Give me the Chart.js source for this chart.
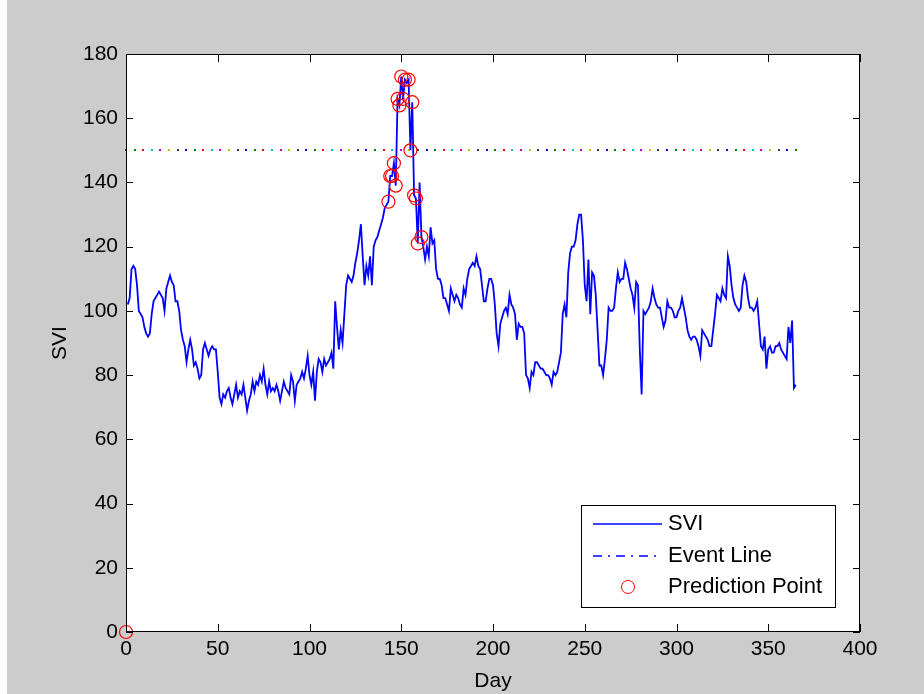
<!DOCTYPE html>
<html>
<head>
<meta charset="utf-8">
<title>SVI</title>
<script src="https://cdn.jsdelivr.net/npm/chart.js@4.4.0/dist/chart.umd.min.js"></script>
<style>
  html, body { margin: 0; padding: 0; background: #ffffff; }
  #wrap { position: absolute; left: 0; top: 0; width: 924px; height: 694px; background: #cccccc; }
  #edge { position: absolute; left: 0; top: 0; width: 7px; height: 694px; background: #ffffff; }
  canvas { display: block; }
</style>
</head>
<body>
<div id="wrap"><canvas id="chart" width="924" height="694"></canvas><div id="edge"></div></div>
<script>
"use strict";

// SVI, one value per day (day 1 .. 365).
const svi = [
  102, 104, 113, 114, 113, 108, 100, 99, 98, 95,
  93, 92, 93, 99, 103, 104, 105, 106, 105, 104,
  100, 107, 109, 111, 109, 108, 103, 103, 100, 94,
  91, 89, 84, 88, 91, 88, 83, 84, 82, 79,
  80, 88, 90, 88, 86, 88, 89, 88, 88, 81,
  73, 71, 74, 73, 75, 76, 73, 71, 74, 77,
  73, 75, 74, 77, 73, 69, 72, 74, 78, 75,
  78, 77, 80, 78, 82, 77, 74, 78, 75, 76,
  75, 77, 75, 72, 75, 78, 76, 75, 74, 80,
  78, 72, 77, 78, 79, 81, 79, 82, 86, 80,
  77, 81, 72, 81, 85, 84, 81, 85, 83, 84,
  85, 87, 82, 103, 95, 88, 94, 90, 99, 108,
  111, 110, 109, 111, 115, 118, 122, 127, 117, 108,
  114, 111, 117, 108, 120, 122, 123, 125, 127, 129,
  132, 133, 134, 142, 142, 146, 139, 166, 164, 173,
  166, 172, 171, 172, 150, 165, 136, 135, 121, 140,
  123, 120, 116, 120, 117, 126, 121, 122, 113, 110,
  110, 108, 104, 104, 102, 100, 107, 105, 103, 105,
  104, 102, 101, 107, 105, 110, 113, 114, 115, 114,
  117, 114, 113, 108, 103, 103, 107, 110, 110, 108,
  102, 93, 89, 96, 98, 100, 101, 99, 105, 102,
  101, 99, 91, 96, 95, 95, 93, 80, 79, 76,
  81, 80, 84, 84, 83, 82, 82, 81, 80, 80,
  79, 77, 81, 80, 81, 84, 87, 99, 102, 98,
  112, 118, 120, 120, 122, 127, 130, 130, 122, 108,
  103, 116, 99, 112, 111, 105, 94, 83, 83, 80,
  85, 91, 101, 100, 100, 101, 107, 112, 109, 110,
  110, 115, 113, 110, 107, 105, 101, 109, 108, 88,
  74, 100, 99, 100, 101, 103, 107, 104, 102, 101,
  101, 98, 95, 97, 103, 101, 101, 100, 98, 98,
  100, 101, 104, 101, 98, 94, 92, 91, 92, 92,
  91, 89, 86, 94, 93, 92, 91, 89, 89, 94,
  99, 105, 104, 103, 107, 105, 104, 117, 114, 108,
  104, 102, 101, 100, 101, 108, 111, 109, 104, 101,
  101, 100, 101, 103, 96, 89, 88, 92, 82, 88,
  89, 87, 87, 89, 89, 90, 88, 87, 86, 85,
  95, 90, 97, 76, 77
];

// red circles
const predDays   = [0, 143, 144, 145, 146, 147, 148, 149, 150, 151, 152, 154, 155, 156, 157, 158, 159, 161];
const predValues = [0, 134, 142, 142, 146, 139, 166, 164, 173, 166, 172, 172, 150, 165, 136, 135, 121, 123];

// dotted event threshold
const eventLevel = 150;
const eventDays = [0, 365];

const xTicks = [0, 50, 100, 150, 200, 250, 300, 350, 400];
const yTicks = [0, 20, 40, 60, 80, 100, 120, 140, 160, 180];

// old MATLAB colour order, used for the multicoloured dots of the event line
const dotColors = ["#0000ff", "#008000", "#ff0000", "#00bfbf", "#bf00bf", "#bfbf00", "#404040"];

const FONT = "'Liberation Sans', Arial, sans-serif";

// white axes box, then inward ticks on all four sides, titles and the legend
const matlabAxes = {
  id: "matlabAxes",
  beforeDraw(chart) {
    const { ctx, chartArea: a } = chart;
    ctx.save();
    ctx.fillStyle = "#ffffff";
    ctx.fillRect(a.left, a.top, a.right - a.left, a.bottom - a.top);
    ctx.restore();
  },
  beforeDatasetsDraw(chart) {
    // event line drawn as coloured dots between its two end points
    const meta = chart.getDatasetMeta(1);
    const p0 = meta.data[0], p1 = meta.data[meta.data.length - 1];
    const ctx = chart.ctx;
    const n = Math.round((p1.x - p0.x) / 8.6);
    const step = (p1.x - p0.x) / n;
    ctx.save();
    for (let i = 0; i <= n; i++) {
      ctx.fillStyle = dotColors[i % dotColors.length];
      ctx.fillRect(Math.round(p0.x + i * step) - 1, Math.round(p0.y) - 1, 2, 2);
    }
    ctx.restore();
  },
  afterDraw(chart) {
    const { ctx, chartArea: a, scales } = chart;
    ctx.save();
    ctx.strokeStyle = "#000000";
    ctx.lineWidth = 1;
    ctx.strokeRect(Math.round(a.left) + 0.5, Math.round(a.top) + 0.5,
      Math.round(a.right - a.left) - 1, Math.round(a.bottom - a.top) - 1);
    ctx.beginPath();
    for (const t of scales.x.ticks) {
      const x = Math.round(scales.x.getPixelForValue(t.value)) + 0.5;
      ctx.moveTo(x, a.bottom); ctx.lineTo(x, a.bottom - 8);
      ctx.moveTo(x, a.top); ctx.lineTo(x, a.top + 8);
    }
    for (const t of scales.y.ticks) {
      const y = Math.round(scales.y.getPixelForValue(t.value)) + 0.5;
      ctx.moveTo(a.left, y); ctx.lineTo(a.left + 7, y);
      ctx.moveTo(a.right, y); ctx.lineTo(a.right - 7, y);
    }
    ctx.stroke();

    // axis titles
    ctx.fillStyle = "#000000";
    ctx.font = "21px " + FONT;
    ctx.textAlign = "center";
    ctx.textBaseline = "middle";
    ctx.fillText("Day", (a.left + a.right) / 2, 681);
    ctx.save();
    ctx.translate(60, (a.top + a.bottom) / 2);
    ctx.rotate(-Math.PI / 2);
    ctx.fillText("SVI", 0, 0);
    ctx.restore();

    // legend box
    const lx = 581, ly = 505, lw = 254, lh = 102;
    ctx.fillStyle = "#ffffff";
    ctx.fillRect(lx, ly, lw, lh);
    ctx.strokeStyle = "#000000";
    ctx.strokeRect(lx + 0.5, ly + 0.5, lw, lh);
    const rows = [524, 556, 587];
    ctx.strokeStyle = "#0000ff";
    ctx.lineWidth = 1.5;
    ctx.beginPath(); ctx.moveTo(593, rows[0]); ctx.lineTo(662, rows[0]); ctx.stroke();
    ctx.setLineDash([9, 6, 2, 6]);
    ctx.beginPath(); ctx.moveTo(593, rows[1]); ctx.lineTo(662, rows[1]); ctx.stroke();
    ctx.setLineDash([]);
    ctx.strokeStyle = "#ff0000";
    ctx.lineWidth = 1;
    ctx.beginPath(); ctx.arc(628, rows[2], 6.5, 0, Math.PI * 2); ctx.stroke();
    ctx.fillStyle = "#000000";
    ctx.font = "22px " + FONT;
    ctx.textAlign = "left";
    ctx.fillText("SVI", 668, rows[0]);
    ctx.fillText("Event Line", 668, rows[1]);
    ctx.fillText("Prediction Point", 668, rows[2]);
    ctx.restore();
  },
};

new Chart(document.getElementById("chart"), {
  type: "line",
  data: {
    datasets: [
      {
        label: "SVI",
        data: svi.map((v, i) => ({ x: i + 1, y: v })),
        borderColor: "#0000ff",
        borderWidth: 1.8,
        pointRadius: 0,
        tension: 0,
        order: 2,
      },
      {
        label: "Event Line",
        data: eventDays.map((d) => ({ x: d, y: eventLevel })),
        borderColor: "rgba(0,0,0,0)",
        borderWidth: 0,
        pointRadius: 0,
        order: 3,
      },
      {
        label: "Prediction Point",
        type: "scatter",
        data: predDays.map((d, i) => ({ x: d, y: predValues[i] })),
        showLine: false,
        pointStyle: "circle",
        pointRadius: 6.5,
        pointBorderWidth: 1.2,
        pointBorderColor: "#ff0000",
        pointBackgroundColor: "rgba(0,0,0,0)",
        clip: false,
        order: 1,
      },
    ],
  },
  options: {
    responsive: false,
    animation: false,
    events: [],
    layout: { padding: { left: 0, top: 54, right: 64, bottom: 0 } },
    plugins: { legend: { display: false }, tooltip: { enabled: false } },
    scales: {
      x: {
        type: "linear",
        min: 0,
        max: 400,
        afterBuildTicks: (s) => { s.ticks = xTicks.map((v) => ({ value: v })); },
        afterFit: (s) => { s.height = 62; },
        grid: { display: false, drawTicks: false },
        border: { display: false },
        ticks: { color: "#000000", padding: 5, maxRotation: 0, font: { family: FONT, size: 21 } },
      },
      y: {
        type: "linear",
        min: 0,
        max: 180,
        afterBuildTicks: (s) => { s.ticks = yTicks.map((v) => ({ value: v })); },
        afterFit: (s) => { s.width = 126; },
        grid: { display: false, drawTicks: false },
        border: { display: false },
        ticks: { color: "#000000", padding: 8, font: { family: FONT, size: 21 } },
      },
    },
  },
  plugins: [matlabAxes],
});
</script>
</body>
</html>
